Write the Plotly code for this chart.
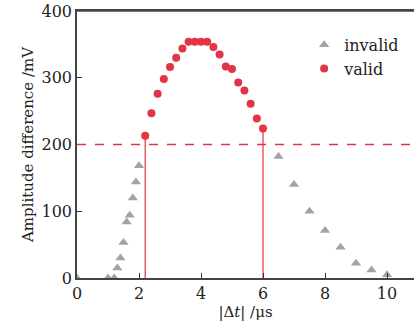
import plotly.graph_objects as go

# invalid (gray triangles)
invalid_x = [0, 1.0, 1.2, 1.3, 1.4, 1.5, 1.6, 1.7, 1.8, 1.9, 2.0,
             6.5, 7.0, 7.5, 8.0, 8.5, 9.0, 9.5, 10.0]
invalid_y = [0, 0, 0, 15, 30, 53, 84, 94, 120, 144, 168,
             182, 140, 100, 71, 46, 22, 12, 5]

# valid (red dots)
valid_x = [2.2, 2.4, 2.6, 2.8, 3.0, 3.2, 3.4, 3.6, 3.8, 4.0, 4.2,
           4.4, 4.6, 4.8, 5.0, 5.2, 5.4, 5.6, 5.8, 6.0]
valid_y = [213, 247, 276, 298, 316, 330, 344, 354, 354, 354, 354,
           346, 335, 317, 313, 293, 281, 261, 239, 224]

threshold = 200
bound_x = [2.2, 6.0]
bound_y = [213, 224]

x_ticks = [0, 2, 4, 6, 8, 10]
y_ticks = [0, 100, 200, 300, 400]

RED = "#e23444"
GRAY = "#a3a3a3"
FONT = "DejaVu Serif"

fig = go.Figure()

for bx, by in zip(bound_x, bound_y):
    fig.add_trace(go.Scatter(x=[bx, bx], y=[0, by], mode="lines",
                             line=dict(color=RED, width=1.2),
                             showlegend=False, hoverinfo="skip"))

fig.add_trace(go.Scatter(x=invalid_x, y=invalid_y, mode="markers", name="invalid",
                         marker=dict(symbol="triangle-up", size=9, color=GRAY)))
fig.add_trace(go.Scatter(x=valid_x, y=valid_y, mode="markers", name="valid",
                         marker=dict(symbol="circle", size=8, color=RED)))

fig.add_hline(y=threshold, line=dict(color=RED, width=1.3, dash="dash"))

# top frame line (at the top of the y range)
fig.add_shape(type="line", xref="paper", yref="y", x0=0, x1=1,
              y0=y_ticks[-1], y1=y_ticks[-1],
              line=dict(color="#444", width=1.6), layer="above")

fig.update_layout(
    width=414, height=328,
    margin=dict(l=77, r=0, t=11, b=50, autoexpand=False),
    paper_bgcolor="white", plot_bgcolor="white",
    font=dict(family=FONT, size=16, color="#222"),
    legend=dict(x=0.674, y=0.937, xanchor="left", yanchor="top",
                bgcolor="rgba(0,0,0,0)", font=dict(size=16),
                itemwidth=30, tracegroupgap=0),
)
fig.update_xaxes(range=[0, 10.87], tickvals=x_ticks, ticks="inside", ticklen=5,
                 tickcolor="#333", showline=True, linecolor="#444", linewidth=1.5,
                 mirror=True, showgrid=False, zeroline=False, automargin=False,
                 title=dict(text="|Δ<i>t</i>| /μs", standoff=2, font=dict(size=15)),
                 tickfont=dict(size=16))
fig.update_yaxes(range=[0, 400], tickvals=y_ticks, ticks="inside", ticklen=5,
                 tickcolor="#333", showline=True, linecolor="#444", linewidth=1.5,
                 mirror=False, showgrid=False, zeroline=False, automargin=False,
                 title=dict(text="Amplitude difference /mV", standoff=4, font=dict(size=15)),
                 tickfont=dict(size=16))

fig.write_html("out.html", config={"displayModeBar": False},
               post_script="document.body.style.margin='0';document.body.style.overflow='hidden';")
